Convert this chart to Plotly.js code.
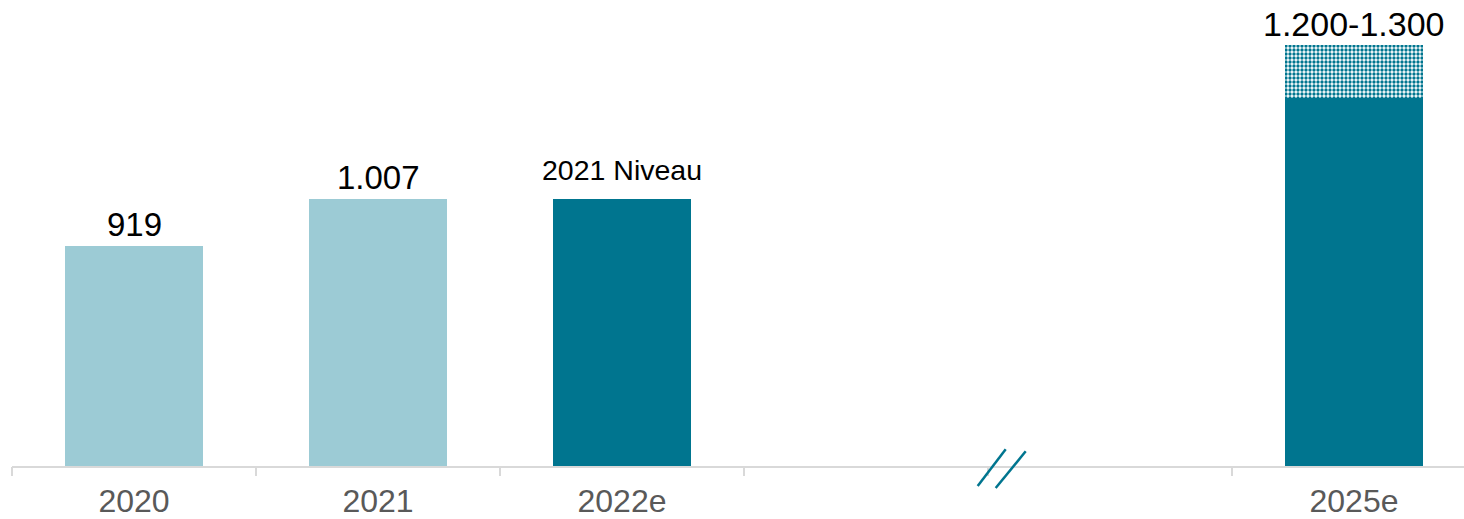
<!DOCTYPE html>
<html><head><meta charset="utf-8">
<script src="https://cdn.plot.ly/plotly-3.0.1.min.js"></script>
<style>html,body{margin:0;padding:0;background:#fff}#chart{width:1464px;height:519px}</style>
</head><body><div id="chart"></div>
<script>
const positions = [0, 1, 2, 5];
const categories = ["2020", "2021", "2022e", "2025e"];
const baseValues = [919, 1007, 1007, 1200];
const rangeValues = [0, 0, 0, 100];
const labels = ["919", "1.007", "2021 Niveau", "1.200-1.300"];
const labelSizes = [33, 33, 28.5, 34];
const labelShift = [1, 1, 11, 0];
const barColors = ["#9ccbd5", "#9ccbd5", "#00758f", "#00758f"];
const boundaries = [-0.5, 0.5, 1.5, 2.5, 3.5, 4.5];

const font = "Liberation Sans, Arial, sans-serif";
const xrange = [-0.5, -0.5 + 1452/244];

const traces = [
  {type:"bar", x:positions, y:baseValues, width:0.566, marker:{color:barColors}, hoverinfo:"none"},
  {type:"bar", x:positions, y:rangeValues, width:0.566,
   marker:{color:"#ffffff", pattern:{shape:".", fgcolor:"#00758f", bgcolor:"#ffffff", size:4, solidity:0.55}}, hoverinfo:"none"},
  {type:"scatter", x:[0], y:[500], xaxis:"x2", mode:"markers", marker:{opacity:0}, hoverinfo:"none", showlegend:false}
];

const tops = baseValues.map((v,i)=>v+rangeValues[i]);
const annotations = positions.map((p,i)=>({
  x:p, y:tops[i], xref:"x", yref:"y", text:labels[i], showarrow:false,
  yanchor:"bottom", yshift:labelShift[i], font:{family:font, size:labelSizes[i], color:"#000"}
}));

const layout = {
  width:1464, height:519, margin:{l:12, r:0, t:0, b:53},
  paper_bgcolor:"#fff", plot_bgcolor:"#fff", barmode:"stack", showlegend:false,
  bargap:0,
  xaxis:{range:xrange, tickvals:positions, ticktext:categories, ticks:"", showgrid:false, zeroline:false,
    ticklabelstandoff:6,
    showline:true, linecolor:"#d9d9d9", linewidth:2, tickfont:{family:font, size:32, color:"#595959"}, fixedrange:true},
  xaxis2:{range:xrange, overlaying:"x", anchor:"y", side:"bottom", tickvals:boundaries, showticklabels:false,
    ticks:"outside", ticklen:9, tickwidth:2, tickcolor:"#d9d9d9", showgrid:false, zeroline:false, showline:false},
  yaxis:{range:[500, 1386], visible:false, fixedrange:true},
  annotations:annotations,
  shapes:[
    {type:"line", xref:"paper", yref:"paper", x0:(977.7-12)/1452, y0:(466-486)/466, x1:(1005.7-12)/1452, y1:(466-449.3)/466, line:{color:"#00758f", width:2.5}},
    {type:"line", xref:"paper", yref:"paper", x0:(995.7-12)/1452, y0:(466-488)/466, x1:(1025.7-12)/1452, y1:(466-451.3)/466, line:{color:"#00758f", width:2.5}}
  ]
};
Plotly.newPlot("chart", traces, layout, {staticPlot:true, displayModeBar:false});
</script></body></html>
